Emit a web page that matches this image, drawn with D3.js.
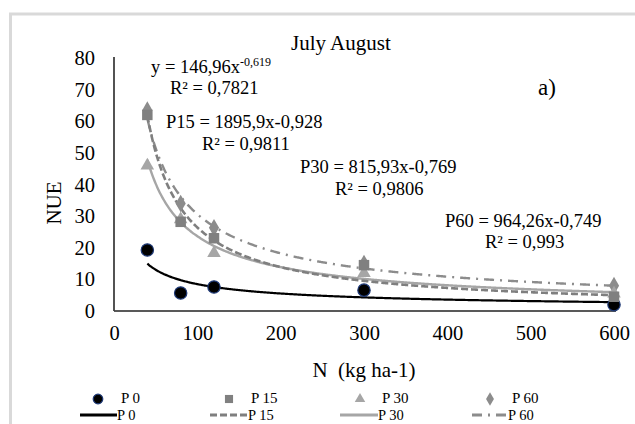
<!DOCTYPE html>
<html>
<head>
<meta charset="utf-8">
<script src="https://cdn.jsdelivr.net/npm/d3@7"></script>
<style>
  html, body { margin: 0; padding: 0; background: #fff; }
  svg text { font-family: "Liberation Serif", "Times New Roman", "DejaVu Serif", serif; }
</style>
</head>
<body>
<svg id="chart" width="635" height="424"></svg>
<script>
// N rates (kg ha-1)
const nRates = [40, 80, 120, 300, 600];
// Observed NUE by P level
const p0 = [19.3, 5.7, 7.6, 6.6, 2.0];
const p15 = [62.0, 28.2, 23.0, 14.5, 4.5];
const p30 = [46.0, 29.0, 18.3, 12.0, 5.5];
const p60 = [63.5, 34.0, 26.3, 15.0, 8.0];
// Power-law fits y = a * x^b
const fitA = [146.96, 1895.9, 815.93, 964.26];
const fitB = [-0.619, -0.928, -0.769, -0.749];
const seriesNames = ["P 0", "P 15", "P 30", "P 60"];
const xTicks = [0, 100, 200, 300, 400, 500, 600];
const yTicks = [0, 10, 20, 30, 40, 50, 60, 70, 80];

const svg = d3.select("#chart");
const FONT = "'Liberation Serif', 'Times New Roman', 'DejaVu Serif', serif";

// outer frame
svg.append("rect").attr("x", 10.5).attr("y", 14).attr("width", 640).attr("height", 430)
  .attr("fill", "#fff").attr("stroke", "#d9d9d9").attr("stroke-width", 3);

const x = d3.scaleLinear().domain([0, 600]).range([114, 614]);
const y = d3.scaleLinear().domain([0, 80]).range([311, 58]);

// axes
const xAxis = svg.append("g").attr("transform", "translate(0,311)")
  .call(d3.axisBottom(x).tickValues(xTicks).tickSize(0).tickPadding(14).tickFormat(d3.format("d")));
xAxis.attr("font-family", FONT);
xAxis.select(".domain").attr("stroke", "#595959").attr("stroke-width", 1.8).attr("d", "M114,0H616");
xAxis.selectAll("text").attr("font-size", 20.5).attr("fill", "#000");

const yAxis = svg.append("g").attr("transform", "translate(114,0)")
  .call(d3.axisLeft(y).tickValues(yTicks).tickSize(0).tickPadding(19).tickFormat(d3.format("d")));
yAxis.attr("font-family", FONT);
yAxis.select(".domain").attr("stroke", "#404040").attr("stroke-width", 1.8).attr("d", "M0,311V57");
yAxis.selectAll("text").attr("font-size", 20.5).attr("fill", "#000");

// axis titles
svg.append("text").attr("transform", "translate(61,203) rotate(-90)").attr("text-anchor", "middle")
  .attr("font-size", 21).text("NUE");
svg.append("text").attr("x", 364).attr("y", 377).attr("text-anchor", "middle")
  .attr("font-size", 21).attr("xml:space", "preserve").text("N  (kg ha-1)");

// fitted curves
const lineStyles = [
  { color: "#000000", width: 2.2, dash: null },
  { color: "#7f7f7f", width: 2.6, dash: "7,3" },
  { color: "#a6a6a6", width: 2.4, dash: null },
  { color: "#8c8c8c", width: 2.4, dash: "10,6,2,6" }
];
const xs = d3.range(40, 601, 2);
const line = d3.line().x(d => x(d[0])).y(d => y(d[1])).curve(d3.curveMonotoneX);
[3, 2, 1, 0].forEach(i => {
  const pts = xs.map(v => [v, fitA[i] * Math.pow(v, fitB[i])]);
  svg.append("path").attr("d", line(pts)).attr("fill", "none")
    .attr("stroke", lineStyles[i].color).attr("stroke-width", lineStyles[i].width)
    .attr("stroke-dasharray", lineStyles[i].dash);
});

// markers
const markerDefs = [
  { data: p0, sym: d3.symbolCircle, size: 120, fill: "#000", stroke: "#1f3a78" },
  { data: p15, sym: d3.symbolSquare, size: 110, fill: "#808080", stroke: "none" },
  { data: p30, sym: d3.symbolTriangle, size: 80, fill: "#a6a6a6", stroke: "none" },
  { data: p60, sym: d3.symbolDiamond, size: 90, fill: "#8c8c8c", stroke: "none" }
];
[3, 0, 2, 1].forEach(i => {
  const m = markerDefs[i];
  svg.append("g").selectAll("path").data(nRates).join("path")
    .attr("transform", (d, j) => `translate(${x(d)},${y(m.data[j])})`)
    .attr("d", d3.symbol().type(m.sym).size(m.size))
    .attr("fill", m.fill).attr("stroke", m.stroke).attr("stroke-width", 1.2);
});

// annotations
svg.append("text").attr("x", 291).attr("y", 50).attr("font-size", 21).text("July August");
svg.append("text").attr("x", 538).attr("y", 95).attr("font-size", 23).text("a)");

const eq0 = svg.append("text").attr("x", 151).attr("y", 73).attr("font-size", 18.5);
eq0.append("tspan").text("y = 146,96x");
eq0.append("tspan").attr("font-size", 12).attr("dy", -7).text("-0,619");
svg.append("text").attr("x", 170).attr("y", 94).attr("font-size", 18.5).text("R² = 0,7821");

svg.append("text").attr("x", 166).attr("y", 128).attr("font-size", 18.5).text("P15 = 1895,9x-0,928");
svg.append("text").attr("x", 202).attr("y", 150).attr("font-size", 18.5).text("R² = 0,9811");
svg.append("text").attr("x", 300).attr("y", 173).attr("font-size", 18.5).text("P30 = 815,93x-0,769");
svg.append("text").attr("x", 335).attr("y", 195).attr("font-size", 18.5).text("R² = 0,9806");
svg.append("text").attr("x", 445).attr("y", 227).attr("font-size", 18.5).text("P60 = 964,26x-0,749");
svg.append("text").attr("x", 485).attr("y", 248).attr("font-size", 18.5).text("R² = 0,993");

// legend: markers row
const legMarkX = [98, 229, 360, 490];
const legTextX = [121, 251, 382, 512];
const legLineX = [[80, 117], [210, 248], [340, 378], [472, 508]];
markerDefs.forEach((m, i) => {
  svg.append("path").attr("transform", `translate(${legMarkX[i]},399)`)
    .attr("d", d3.symbol().type(m.sym).size(m.size * 0.6))
    .attr("fill", m.fill).attr("stroke", m.stroke).attr("stroke-width", 1.2);
  svg.append("text").attr("x", legTextX[i]).attr("y", 403).attr("font-size", 15).text(seriesNames[i]);
});
// legend: lines row
lineStyles.forEach((s, i) => {
  svg.append("line").attr("x1", legLineX[i][0]).attr("x2", legLineX[i][1])
    .attr("y1", 415).attr("y2", 415)
    .attr("stroke", s.color).attr("stroke-width", s.width + 0.6).attr("stroke-dasharray", s.dash);
  svg.append("text").attr("x", legLineX[i][1]).attr("y", 420).attr("font-size", 14.5).text(seriesNames[i]);
});
</script>
</body>
</html>
